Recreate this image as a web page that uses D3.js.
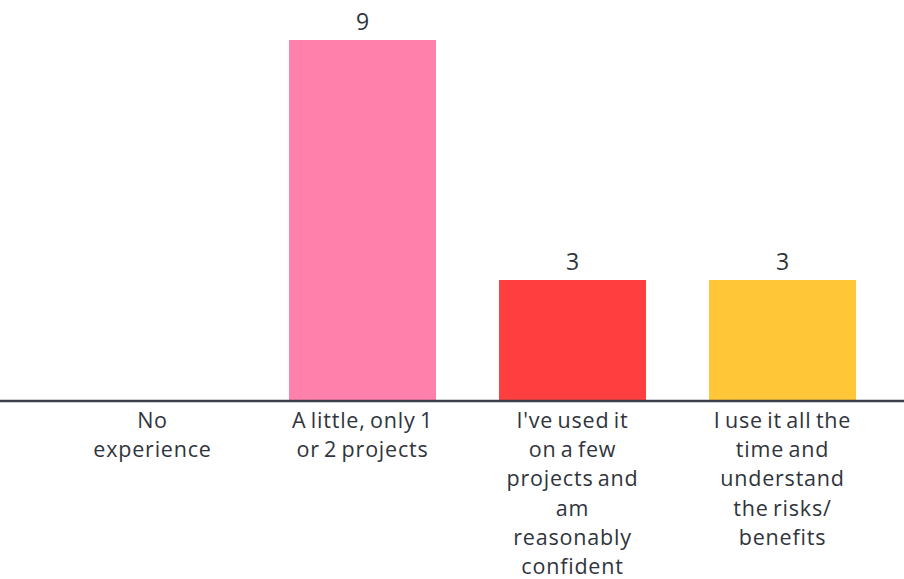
<!DOCTYPE html>
<html>
<head>
<meta charset="utf-8">
<script src="https://cdn.jsdelivr.net/npm/d3@7"></script>
<style>
  html, body { margin: 0; padding: 0; background: #ffffff; }
  svg { display: block; }
  text { font-family: "Open Sans", Lato, sans-serif; fill: #30343c; }
</style>
</head>
<body>
<svg id="chart" width="904" height="579"></svg>
<script>
// Experience levels and number of respondents in each
const categories = [
  "No experience",
  "A little, only 1 or 2 projects",
  "I've used it on a few projects and am reasonably confident",
  "I use it all the time and understand the risks/ benefits"
];
const labelLines = [
  ["No", "experience"],
  ["A little, only 1", "or 2 projects"],
  ["I've used it", "on a few", "projects and", "am", "reasonably", "confident"],
  ["I use it all the", "time and", "understand", "the risks/", "benefits"]
];
const counts = [0, 9, 3, 3];
const colors = ["#ff80ab", "#ff80ab", "#ff3f3f", "#ffc637"];

const svg = d3.select("#chart");
const baseY = 400;

const x = d3.scaleBand()
  .domain(categories)
  .range([47.5, 887.5])
  .paddingInner(0.3)
  .paddingOuter(0.15);

const y = d3.scaleLinear()
  .domain([0, 9])
  .range([baseY, 40]);

// Bars
svg.append("g")
  .selectAll("rect")
  .data(categories)
  .join("rect")
  .attr("x", d => x(d))
  .attr("width", x.bandwidth())
  .attr("y", (d, i) => y(counts[i]))
  .attr("height", (d, i) => baseY - y(counts[i]))
  .attr("fill", (d, i) => colors[i]);

// Value labels above non-empty bars
svg.append("g")
  .selectAll("text")
  .data(categories.filter((d, i) => counts[i] > 0))
  .join("text")
  .attr("x", d => x(d) + x.bandwidth() / 2)
  .attr("y", d => y(counts[categories.indexOf(d)]) - 10)
  .attr("text-anchor", "middle")
  .attr("font-size", 23)
  .text(d => counts[categories.indexOf(d)]);

// Baseline axis
svg.append("line")
  .attr("x1", 0).attr("x2", 904)
  .attr("y1", baseY + 1).attr("y2", baseY + 1)
  .attr("stroke", "#3a3f48")
  .attr("stroke-width", 2.5);

// Wrapped category labels
const lab = svg.append("g")
  .selectAll("text")
  .data(categories)
  .join("text")
  .attr("text-anchor", "middle")
  .attr("font-size", 21.5)
  .attr("word-spacing", -2)
  .attr("letter-spacing", 0.8)
  .attr("x", d => x(d) + x.bandwidth() / 2)
  .attr("y", 428);

lab.each(function (d, i) {
  d3.select(this).selectAll("tspan")
    .data(labelLines[i])
    .join("tspan")
    .attr("x", x(d) + x.bandwidth() / 2)
    .attr("dy", (t, j) => j === 0 ? 0 : 29.2)
    .text(t => t);
});
</script>
</body>
</html>
